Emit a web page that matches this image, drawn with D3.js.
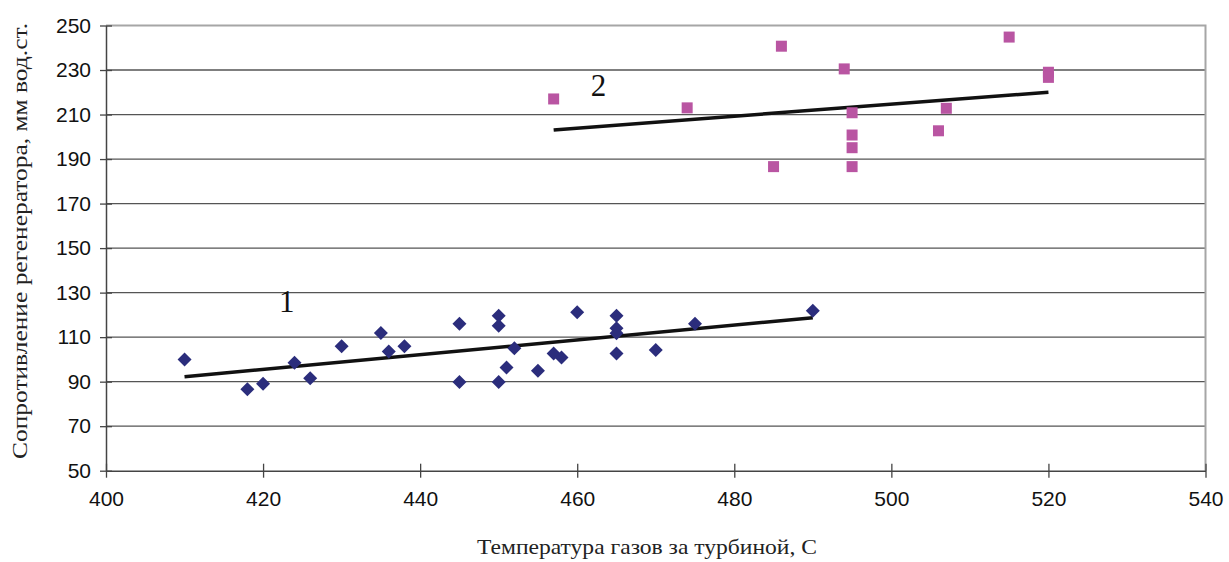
<!DOCTYPE html>
<html>
<head>
<meta charset="utf-8">
<script src="https://cdn.jsdelivr.net/npm/d3@7"></script>
<style>
  html, body { margin: 0; padding: 0; background: #fff; }
  svg { display: block; }
</style>
</head>
<body>
<svg id="chart" width="1229" height="562"></svg>
<script>
// series 1 (diamonds): temperature, resistance
var temp1 = [410, 418, 420, 424, 426, 430, 435, 436, 438, 445, 445, 450, 450, 450, 451, 452,
             455, 457, 458, 460, 465, 465, 465, 465, 470, 475, 490];
var resist1 = [100, 86.6, 89.1, 98.5, 91.5, 105.9, 111.9, 103.5, 105.9, 116, 89.8, 119.6, 115.1, 89.8, 96.4, 105,
               94.9, 102.7, 100.8, 121.2, 119.6, 114, 111.7, 102.6, 104.2, 116, 121.9];

// series 2 (squares)
var temp2 = [457, 474, 485, 486, 494, 495, 495, 495, 495, 506, 507, 515, 520, 520];
var resist2 = [217, 213, 186.6, 240.7, 230.5, 210.8, 200.8, 195.1, 186.6, 202.7, 212.8, 244.8, 229, 226.7];

// trend lines (start/end)
var trend1X = [410, 490], trend1Y = [92.2, 118.7];
var trend2X = [457, 520], trend2Y = [203.1, 220];

var xTicks = [400, 420, 440, 460, 480, 500, 520, 540];
var yTicks = [50, 70, 90, 110, 130, 150, 170, 190, 210, 230, 250];

var labels = [{ text: "1", x: 423, y: 121.3 }, { text: "2", x: 462.7, y: 218.3 }];

var margin = { left: 106, right: 23.5, top: 25.5, bottom: 91.3 };
var width = 1229, height = 562;

var svg = d3.select("#chart");

var x = d3.scaleLinear().domain([400, 540]).range([margin.left, width - margin.right]);
var y = d3.scaleLinear().domain([50, 250]).range([height - margin.bottom, margin.top]);

// grid
svg.append("g")
	.selectAll("line")
	.data(yTicks.slice(1, -1))
	.enter()
	.append("line")
	.attr("x1", x(400))
	.attr("x2", x(540))
	.attr("y1", function(d) { return y(d); })
	.attr("y2", function(d) { return y(d); })
	.attr("stroke", "#555")
	.attr("stroke-width", 1.3);

// plot border, top and right
svg.append("path")
	.attr("d", "M" + x(400) + "," + y(250) + "H" + x(540) + "V" + y(50))
	.attr("fill", "none")
	.attr("stroke", "#a6a6a6")
	.attr("stroke-width", 2);

// axes
var xAxis = svg.append("g")
	.attr("transform", "translate(0," + y(50) + ")")
	.call(d3.axisBottom(x).tickValues(xTicks).tickSizeInner(7).tickSizeOuter(0).tickPadding(13));
xAxis.selectAll(".tick line").attr("y1", -7);

var yAxis = svg.append("g")
	.attr("transform", "translate(" + x(400) + ",0)")
	.call(d3.axisLeft(y).tickValues(yTicks).tickSizeInner(6).tickSizeOuter(0).tickPadding(9));
yAxis.selectAll(".tick line").attr("x1", 6);

svg.selectAll(".domain").attr("stroke", "#444").attr("stroke-width", 1.5);
svg.selectAll(".tick line").attr("stroke", "#444").attr("stroke-width", 1.3);
svg.selectAll(".tick text")
	.attr("fill", "#111")
	.style("font-size", "21px")
	.style("font-family", "'Liberation Sans', Arial, sans-serif");

// trend lines
var line = d3.line()
	.x(function(d) { return x(d[0]); })
	.y(function(d) { return y(d[1]); });

[[trend1X, trend1Y], [trend2X, trend2Y]].forEach(function(t) {
	svg.append("path")
		.datum(d3.zip(t[0], t[1]))
		.attr("d", line)
		.attr("fill", "none")
		.attr("stroke", "#111")
		.attr("stroke-width", 3.5);
});

// markers
svg.append("g")
	.selectAll("path")
	.data(d3.zip(temp1, resist1))
	.enter()
	.append("path")
	.attr("transform", function(d) { return "translate(" + x(d[0]) + "," + y(d[1]) + ")"; })
	.attr("d", "M0,-7L7,0L0,7L-7,0Z")
	.attr("fill", "#2b2d7c");

svg.append("g")
	.selectAll("rect")
	.data(d3.zip(temp2, resist2))
	.enter()
	.append("rect")
	.attr("x", function(d) { return x(d[0]) - 5.5; })
	.attr("y", function(d) { return y(d[1]) - 5.5; })
	.attr("width", 11)
	.attr("height", 11)
	.attr("fill", "#b955a2");

// series labels
svg.append("g")
	.selectAll("text")
	.data(labels)
	.enter()
	.append("text")
	.attr("x", function(d) { return x(d.x); })
	.attr("y", function(d) { return y(d.y); })
	.attr("text-anchor", "middle")
	.attr("fill", "#111")
	.style("font-size", "31px")
	.style("font-family", "'Liberation Serif', 'Times New Roman', serif")
	.text(function(d) { return d.text; });

// axis titles
svg.append("text")
	.attr("x", 647)
	.attr("y", 554)
	.attr("text-anchor", "middle")
	.attr("textLength", 340)
	.attr("lengthAdjust", "spacingAndGlyphs")
	.attr("fill", "#222")
	.style("font-size", "22px")
	.style("font-family", "'Liberation Serif', 'Times New Roman', serif")
	.text("Температура газов за турбиной, С");

svg.append("text")
	.attr("transform", "translate(27,241) rotate(-90)")
	.attr("text-anchor", "middle")
	.attr("textLength", 436)
	.attr("lengthAdjust", "spacingAndGlyphs")
	.attr("fill", "#222")
	.style("font-size", "22px")
	.style("font-family", "'Liberation Serif', 'Times New Roman', serif")
	.text("Сопротивление регенератора, мм вод.ст.");
</script>
</body>
</html>
